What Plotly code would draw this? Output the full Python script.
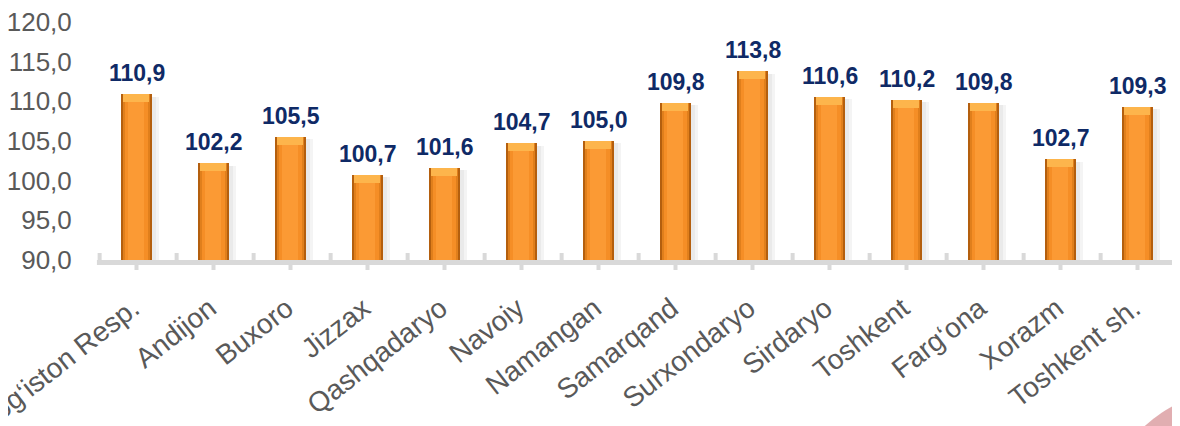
import plotly.graph_objects as go

categories = ["Qoraqalpog‘iston Resp.", "Andijon", "Buxoro", "Jizzax", "Qashqadaryo",
              "Navoiy", "Namangan", "Samarqand", "Surxondaryo", "Sirdaryo",
              "Toshkent", "Farg‘ona", "Xorazm", "Toshkent sh."]
values = [110.9, 102.2, 105.5, 100.7, 101.6, 104.7, 105.0, 109.8, 113.8, 110.6,
          110.2, 109.8, 102.7, 109.3]
y_ticks = [90, 95, 100, 105, 110, 115, 120]

FONT = "Liberation Sans, Arial, sans-serif"
# page body has an 8px margin, so the figure is drawn 8px smaller and offset
W, H = 1172, 418
ML, MR, MT, MB = 90, 4, 14, 166
PW = W - ML - MR
PH = H - MT - MB
BOTTOM = MT + PH  # pixel row of the value 90

fig = go.Figure()
n = len(categories)
xs = list(range(n))

# soft shadow to the right of each bar
for w, c in [(0.08, "#F4F4F4"), (0.05, "#EAEAEA")]:
    fig.add_trace(go.Bar(
        x=xs, y=[v - 90 - 0.3 for v in values], base=90,
        width=w, offset=0.2075, marker=dict(color=c, line=dict(width=0)),
        hoverinfo="skip", showlegend=False,
    ))

# layered bars to imitate the shaded bar
layers = [
    (0.415, "#6E3607", 0.0),
    (0.39, "#B45F0E", 0.0),
    (0.355, "#E07F1C", -0.004),
    (0.30, "#F58E26", -0.004),
    (0.20, "#FB9A34", -0.004),
]
for w, c, off in layers:
    fig.add_trace(go.Bar(
        x=xs, y=[v - 90 for v in values], base=90,
        width=w, offset=-w / 2 + off, marker=dict(color=c, line=dict(width=0)),
        hoverinfo="skip", showlegend=False,
    ))

# top bevel highlight
fig.add_trace(go.Bar(
    x=xs, y=[1.0] * n, base=[v - 1.0 for v in values],
    width=0.33, offset=-0.165 - 0.004,
    marker=dict(color="#FDB54C", line=dict(width=0)),
    hoverinfo="skip", showlegend=False,
))

annotations = []
for x, v in zip(xs, values):
    annotations.append(dict(
        x=x, y=v, xref="x", yref="y", text=f"{v:.1f}".replace(".", ","),
        showarrow=False, yanchor="bottom", xanchor="center", yshift=6,
        font=dict(family=FONT, size=23, color="#0F2A66", weight="bold"),
    ))

shapes = []
gray = "#D9D9D9"
px_y = lambda p: p / PH  # pixel offset above the 90 line -> paper fraction
# floor strip
shapes.append(dict(type="rect", xref="x domain", yref="paper", x0=-0.001, x1=1.0,
                   y0=px_y(-5), y1=px_y(0), fillcolor=gray, line=dict(width=0), layer="below"))
# up ticks at category boundaries
for i in range(n + 1):
    xd = i / n
    shapes.append(dict(type="line", xref="x domain", yref="paper", x0=xd + 0.0015, x1=xd + 0.0015,
                       y0=px_y(-1), y1=px_y(7), line=dict(color=gray, width=4), layer="below"))
# down ticks at category centers
for i in range(n):
    xd = (i + 0.5) / n
    shapes.append(dict(type="line", xref="x domain", yref="paper", x0=xd, x1=xd,
                       y0=px_y(-10), y1=px_y(-3), line=dict(color=gray, width=4), layer="below"))
# corner decoration (partial swoosh in the bottom-right corner)
cx, cy, r = 1232, 522, 141
shapes.append(dict(type="circle", xref="paper", yref="paper",
                   x0=(cx - r - ML) / PW, x1=(cx + r - ML) / PW,
                   y0=(BOTTOM - (cy + r)) / PH, y1=(BOTTOM - (cy - r)) / PH,
                   fillcolor="rgba(205,120,125,0.6)", line=dict(width=0), layer="below"))

fig.update_layout(
    width=W, height=H,
    margin=dict(l=ML, r=MR, t=MT, b=MB, pad=0, autoexpand=False),
    paper_bgcolor="white", plot_bgcolor="white",
    barmode="overlay", bargap=0,
    separators=", ",
    shapes=shapes, annotations=annotations,
    font=dict(family=FONT),
    xaxis=dict(
        range=[-0.5, n - 0.5], tickmode="array",
        tickvals=[x - 0.05 for x in xs], ticktext=categories,
        tickangle=-38, tickfont=dict(family=FONT, size=28, color="#595959"),
        ticks="outside", ticklen=20, tickcolor="rgba(0,0,0,0)",
        ticklabeloverflow="allow", automargin=False,
        showgrid=False, zeroline=False, showline=False,
    ),
    yaxis=dict(
        range=[90, 120], tickvals=y_ticks, tickformat=".1f",
        tickfont=dict(family=FONT, size=26, color="#595959"),
        ticks="outside", ticklen=20, tickcolor="rgba(0,0,0,0)",
        ticklabeloverflow="allow", automargin=False,
        showgrid=False, zeroline=False, showline=False,
    ),
)

fig.write_html("out.html")
